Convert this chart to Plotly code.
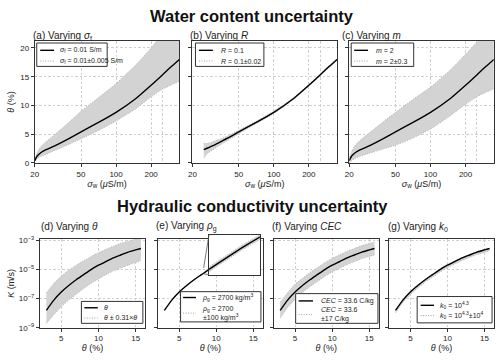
import math
import plotly.graph_objects as go

W, H = 500, 362
FONT = "Liberation Sans, Arial, sans-serif"

# ---------------- data ----------------
# Water content panels: sigma_w in uS/m, theta in %
sigma_w = [20, 21, 22, 23, 25, 30, 40, 50, 70, 100, 150, 200, 250, 300, 350]
theta_ref = [0.4, 1.2, 1.6, 1.9, 2.3, 3.0, 4.3, 5.4, 7.0, 8.8, 11.3, 13.5, 15.3, 16.8, 18.0]
theta_a_hi = [0.5, 1.8, 2.5, 3.0, 3.7, 5.0, 7.2, 9.0, 11.3, 13.8, 17.2, 20.0, 22.5, 24.5, 26.5]
theta_a_lo = [0.3, 0.8, 1.0, 1.2, 1.5, 2.2, 3.3, 4.2, 5.6, 7.3, 9.5, 11.5, 12.8, 13.6, 14.2]

sigma_w_b = [25, 27, 30, 35, 40, 50, 70, 100, 150, 200, 250, 300, 350]
theta_b = [2.3, 2.6, 3.0, 3.7, 4.3, 5.4, 7.0, 8.8, 11.3, 13.5, 15.3, 16.8, 18.0]
theta_b_hi = [3.4, 3.4, 3.7, 4.2, 4.7, 5.7, 7.2, 9.0, 11.45, 13.65, 15.45, 16.95, 18.15]
theta_b_lo = [0.9, 1.7, 2.3, 3.2, 3.9, 5.1, 6.8, 8.6, 11.15, 13.35, 15.15, 16.65, 17.85]

theta_c_hi = [1.0, 2.0, 2.8, 3.3, 4.0, 5.3, 7.3, 8.8, 11.0, 13.2, 16.3, 18.9, 21.0, 23.0, 24.5]
theta_c_lo = [0.0, 0.4, 0.7, 0.9, 1.2, 1.7, 2.5, 3.1, 4.3, 5.9, 8.3, 10.2, 11.5, 12.3, 12.9]

# Hydraulic conductivity panels: theta in %, log10 K (m/s)
theta_k = [3, 4, 5, 6, 7, 8, 9, 10, 11, 12, 13, 14, 15, 15.7]
logK_ref = [-7.8, -7.1, -6.55, -6.1, -5.7, -5.35, -5.0, -4.7, -4.45, -4.2, -4.0, -3.8, -3.65, -3.55]
logK_d_hi = [-6.6, -5.95, -5.45, -5.05, -4.7, -4.4, -4.1, -3.85, -3.6, -3.4, -3.2, -3.05, -2.9, -2.8]
logK_d_lo = [-8.7, -8.1, -7.55, -7.1, -6.7, -6.3, -5.95, -5.65, -5.35, -5.1, -4.9, -4.7, -4.5, -4.4]
logK_e_hi = [-7.775, -7.075, -6.525, -6.075, -5.675, -5.325, -4.975, -4.675, -4.425, -4.175, -3.975, -3.775, -3.625, -3.525]
logK_e_lo = [-7.825, -7.125, -6.575, -6.125, -5.725, -5.375, -5.025, -4.725, -4.475, -4.225, -4.025, -3.825, -3.675, -3.575]
logK_f_hi = [-7.25, -6.6, -6.0, -5.6, -5.2, -4.87, -4.53, -4.23, -3.98, -3.74, -3.55, -3.35, -3.2, -3.1]
logK_f_lo = [-8.35, -7.6, -7.05, -6.58, -6.18, -5.83, -5.47, -5.17, -4.92, -4.66, -4.45, -4.25, -4.1, -4.0]
logK_g_hi = [-7.76, -7.06, -6.51, -6.06, -5.66, -5.31, -4.96, -4.66, -4.41, -4.16, -3.96, -3.76, -3.61, -3.51]
logK_g_lo = [-7.97, -7.27, -6.72, -6.27, -5.87, -5.52, -5.17, -4.87, -4.62, -4.37, -4.17, -3.97, -3.82, -3.72]

# inset zoom window of panel (e)
inset_theta = [8.3, 9.3]
inset_logK = [-5.3, -4.88]

# tick labels
sig_ticks = [20, 50, 100, 200]
sig_ticktext = ["20", "50", "100", "200"]
sig_minor_grid = [250]
theta_ticks = [0, 5, 10, 15, 20]
k_ticks = [1e-9, 1e-7, 1e-5, 1e-3]
k_ticktext = ["10<sup>−9</sup>", "10<sup>−7</sup>", "10<sup>−5</sup>", "10<sup>−3</sup>"]
th_ticks = [5, 10, 15]

# ---------------- layout helpers ----------------
def X(p):
    return p / W

def Y(p):
    return 1 - p / H

BAND_FILL = "#d3d3d3"
BAND_EDGE = dict(color="#a8a8a8", width=0.8, dash="1px,1.5px", shape="spline", smoothing=0.6)
MAIN_LINE = dict(color="black", width=1.4, shape="spline", smoothing=0.6)
AX_COLOR = "#333333"
GRID = "#cfcfcf"
GRID_DASH = "2.5px,2px"

fig = go.Figure()

def add_band(xs, lo, hi, mid, xref, yref, tf=lambda v: v):
    fig.add_trace(go.Scatter(x=xs, y=[tf(v) for v in hi], mode="lines", line=BAND_EDGE,
                             xaxis=xref, yaxis=yref, showlegend=False, hoverinfo="skip"))
    fig.add_trace(go.Scatter(x=xs, y=[tf(v) for v in lo], mode="lines", line=BAND_EDGE,
                             fill="tonexty", fillcolor=BAND_FILL,
                             xaxis=xref, yaxis=yref, showlegend=False, hoverinfo="skip"))
    fig.add_trace(go.Scatter(x=xs, y=[tf(v) for v in mid], mode="lines", line=MAIN_LINE,
                             xaxis=xref, yaxis=yref, showlegend=False))

exp10 = lambda v: 10 ** v

# top row
add_band(sigma_w, theta_a_lo, theta_a_hi, theta_ref, "x", "y")
add_band(sigma_w_b, theta_b_lo, theta_b_hi, theta_b, "x2", "y2")
add_band(sigma_w, theta_c_lo, theta_c_hi, theta_ref, "x3", "y3")
# bottom row
add_band(theta_k, logK_d_lo, logK_d_hi, logK_ref, "x4", "y4", exp10)
add_band(theta_k, logK_e_lo, logK_e_hi, logK_ref, "x5", "y5", exp10)
add_band(theta_k, logK_f_lo, logK_f_hi, logK_ref, "x6", "y6", exp10)
add_band(theta_k, logK_g_lo, logK_g_hi, logK_ref, "x7", "y7", exp10)
# inset
add_band(theta_k, logK_e_lo, logK_e_hi, logK_ref, "x8", "y8", exp10)

tick_font = dict(family=FONT, size=8, color="#222")
title_font = dict(family=FONT, size=9, color="#222")

def axis_common():
    return dict(showline=True, mirror=True, linecolor=AX_COLOR, linewidth=1,
                ticks="outside", ticklen=3, tickcolor=AX_COLOR, tickwidth=0.8,
                showgrid=True, gridcolor=GRID, griddash=GRID_DASH, gridwidth=0.7,
                zeroline=False, tickfont=tick_font)

top_x = [(31, 176.8), (190, 335.8), (348, 493.8)]
top_y = (38, 163)
bot_x = [(36, 142.5), (155, 261), (271.7, 378), (388, 494)]
bot_y = (241, 332)

lay = dict()
for i, (a, b) in enumerate(top_x):
    n = "" if i == 0 else str(i + 1)
    xa = axis_common()
    xa.update(type="log", range=[math.log10(20), math.log10(350)], domain=[X(a), X(b)],
              tickmode="array", tickvals=sig_ticks, ticktext=sig_ticktext,
              minor=dict(tickmode="array", tickvals=sig_minor_grid, showgrid=True,
                         gridcolor=GRID, griddash=GRID_DASH, gridwidth=0.7, ticks=""),
              anchor="y" + n,
              title=dict(text="<i>σ</i><sub>w</sub> (<i>μ</i>S/m)", font=title_font, standoff=2))
    ya = axis_common()
    ya.update(range=[0, 21.2], domain=[Y(top_y[1]), Y(top_y[0])], tickmode="array",
              tickvals=theta_ticks, anchor="x" + n, showticklabels=(i == 0))
    if i == 0:
        ya.update(title=dict(text="<i>θ</i> (%)", font=title_font, standoff=4))
    lay["xaxis" + n] = xa
    lay["yaxis" + n] = ya

for i, (a, b) in enumerate(bot_x):
    n = str(i + 4)
    xa = axis_common()
    xa.update(range=[2.1, 16.3], domain=[X(a), X(b)], tickmode="array", tickvals=th_ticks,
              anchor="y" + n,
              title=dict(text="<i>θ</i> (%)", font=title_font, standoff=2))
    ya = axis_common()
    ya.update(type="log", range=[-9, -2.9], domain=[Y(bot_y[1]), Y(bot_y[0])],
              tickmode="array", tickvals=k_ticks, ticktext=k_ticktext,
              anchor="x" + n, showticklabels=(i == 0))
    if i == 0:
        ya.update(title=dict(text="<i>K</i> (m/s)", font=title_font, standoff=2))
    lay["xaxis" + n] = xa
    lay["yaxis" + n] = ya

# inset axes
ins_x = (206.7, 258)
ins_y = (236.5, 277.5)
lay["xaxis8"] = dict(range=inset_theta, domain=[X(ins_x[0]), X(ins_x[1])], anchor="y8",
                     showline=True, mirror=True, linecolor=AX_COLOR, linewidth=1,
                     showgrid=False, zeroline=False, showticklabels=False, ticks="")
lay["yaxis8"] = dict(type="log", range=inset_logK, domain=[Y(ins_y[1]), Y(ins_y[0])], anchor="x8",
                     showline=True, mirror=True, linecolor=AX_COLOR, linewidth=1,
                     showgrid=False, zeroline=False, showticklabels=False, ticks="")

fig.update_layout(**lay)

shapes = []
annotations = []

# indicator rectangle in (e) and connector lines
shapes.append(dict(type="rect", xref="x5", yref="y5", x0=inset_theta[0], x1=inset_theta[1],
                   y0=inset_logK[0], y1=inset_logK[1], line=dict(color="#555", width=0.8)))

def to_paper(v, dom, rng):
    return dom[0] + (v - rng[0]) / (rng[1] - rng[0]) * (dom[1] - dom[0])

dom_x5 = lay["xaxis5"]["domain"]; rng_x5 = lay["xaxis5"]["range"]
dom_y5 = lay["yaxis5"]["domain"]; rng_y5 = lay["yaxis5"]["range"]
rx0 = to_paper(inset_theta[0], dom_x5, rng_x5)
ry0 = to_paper(inset_logK[0], dom_y5, rng_y5)
ry1 = to_paper(inset_logK[1], dom_y5, rng_y5)
shapes.append(dict(type="line", xref="paper", yref="paper", x0=rx0, y0=ry1,
                   x1=X(ins_x[0]), y1=Y(ins_y[0]), line=dict(color="#555", width=0.8)))
shapes.append(dict(type="line", xref="paper", yref="paper", x0=rx0, y0=ry0,
                   x1=X(ins_x[0]), y1=Y(ins_y[1]), line=dict(color="#555", width=0.8)))

# titles
annotations.append(dict(text="<b>Water content uncertainty</b>", x=X(250), y=Y(12.5),
                        xref="paper", yref="paper", showarrow=False, xanchor="center",
                        yanchor="middle", font=dict(family=FONT, size=16.5, color="#111")))
annotations.append(dict(text="<b>Hydraulic conductivity uncertainty</b>", x=X(250), y=Y(207.5),
                        xref="paper", yref="paper", showarrow=False, xanchor="center",
                        yanchor="middle", font=dict(family=FONT, size=16.5, color="#111")))

panel_titles = [
    ("(a) Varying <i>σ</i><sub>f</sub>", 27.5, 32.5),
    ("(b) Varying <i>R</i>", 185, 32.5),
    ("(c) Varying <i>m</i>", 338.5, 32.5),
    ("(d) Varying <i>θ</i>", 35, 228.5),
    ("(e) Varying <i>ρ</i><sub>g</sub>", 151.5, 228.5),
    ("(f) Varying <i>CEC</i>", 268, 228.5),
    ("(g) Varying <i>k</i><sub>0</sub>", 385, 228.5),
]
for t, px, py in panel_titles:
    annotations.append(dict(text=t, x=X(px), y=Y(py), xref="paper", yref="paper",
                            showarrow=False, xanchor="left", yanchor="middle",
                            font=dict(family=FONT, size=10, color="#222")))

LEG_FONT = dict(family=FONT, size=7, color="#222")

def legend(box, rows):
    x0, x1, y0, y1 = box
    shapes.append(dict(type="rect", xref="paper", yref="paper", x0=X(x0), x1=X(x1),
                       y0=Y(y1), y1=Y(y0), fillcolor="white",
                       line=dict(color="#333", width=1), layer="above"))
    for (sx0, sx1, sy, style, tx, ty, text) in rows:
        if style == "solid":
            ln = dict(color="black", width=1.4)
        else:
            ln = dict(color="#a0a0a0", width=1.0, dash="1px,1.5px")
        shapes.append(dict(type="line", xref="paper", yref="paper", x0=X(sx0), x1=X(sx1),
                           y0=Y(sy), y1=Y(sy), line=ln, layer="above"))
        annotations.append(dict(text=text, x=X(tx), y=Y(ty), xref="paper", yref="paper",
                                showarrow=False, xanchor="left", yanchor="middle",
                                align="left", font=LEG_FONT))

legend((33, 104, 40, 64), [
    (36.5, 50.5, 47.5, "solid", 54, 47.5, "<i>σ</i><sub>f</sub> = 0.01 S/m"),
    (36.5, 50.5, 58.5, "dot", 54, 58.5, "<i>σ</i><sub>f</sub> = 0.01±0.005 S/m"),
])
legend((193, 262, 40, 64), [
    (196.5, 210.5, 47.5, "solid", 217, 47.5, "<i>R</i> = 0.1"),
    (196.5, 210.5, 58.5, "dot", 217, 58.5, "<i>R</i> = 0.1±0.02"),
])
legend((350, 413, 40, 64), [
    (353, 367, 47.5, "solid", 373, 47.5, "<i>m</i> = 2"),
    (353, 367, 58.5, "dot", 373, 58.5, "<i>m</i> = 2±0.3"),
])
legend((78, 140, 305, 327.5), [
    (81, 94.5, 311.5, "solid", 99, 311.5, "<i>θ</i>"),
    (81, 94.5, 322, "dot", 99, 322, "<i>θ</i> ± 0.31×<i>θ</i>"),
])
legend((178, 259, 295, 326), [
    (180.5, 193.5, 301, "solid", 197.5, 301, "<i>ρ</i><sub>g</sub> = 2700 kg/m<sup>3</sup>"),
    (180.5, 193.5, 317, "dot", 197.5, 317, "<i>ρ</i><sub>g</sub> = 2700<br>±100 kg/m<sup>3</sup>"),
])
legend((294, 377, 297, 327.5), [
    (297, 311.5, 304.5, "solid", 318, 304.5, "<i>CEC</i> = 33.6 C/kg"),
    (297, 311.5, 318.5, "dot", 318, 318.5, "<i>CEC</i> = 33.6<br>±17 C/kg"),
])
legend((416.5, 492, 300, 327), [
    (420, 433.5, 309, "solid", 438, 309, "<i>k</i><sub>0</sub> = 10<sup>4.3</sup>"),
    (420, 433.5, 319.5, "dot", 438, 319.5, "<i>k</i><sub>0</sub> = 10<sup>4.3</sup>±10<sup>4</sup>"),
])

fig.update_layout(width=W, height=H, margin=dict(l=0, r=0, t=0, b=0),
                  paper_bgcolor="white", plot_bgcolor="white",
                  showlegend=False, shapes=shapes, annotations=annotations,
                  font=dict(family=FONT, size=8, color="#222"))

fig.write_html("out.html", config={"displayModeBar": False},
               post_script="document.body.style.margin='0';document.body.style.padding='0';")
